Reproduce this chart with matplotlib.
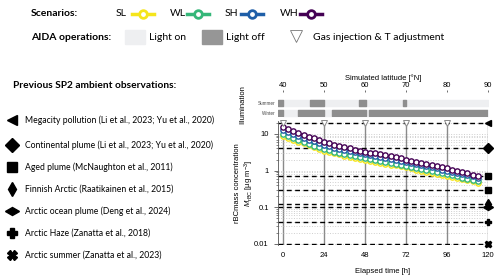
import matplotlib.pyplot as plt
from matplotlib.markers import MarkerStyle
from matplotlib.patches import Rectangle
from matplotlib.transforms import Affine2D


hours = [0, 3, 6, 9, 12, 15, 18, 21, 24, 27, 30, 33, 36, 39, 42, 45, 48, 51, 54, 57,
         60, 63, 66, 69, 72, 75, 78, 81, 84, 87, 90, 93, 96, 99, 102, 105, 108, 111, 114]

sl = [9.0, 7.9, 7.0, 6.2, 5.5, 4.85, 4.3, 3.85, 3.45, 3.2, 2.97, 2.75, 2.55, 2.37, 2.21,
      2.08, 1.96, 1.84, 1.74, 1.64, 1.55, 1.46, 1.38, 1.3, 1.22, 1.14, 1.07, 1.0, 0.94,
      0.88, 0.83, 0.78, 0.73, 0.68, 0.64, 0.59, 0.55, 0.51, 0.47]
wl = [10.0, 8.8, 7.8, 6.9, 6.1, 5.4, 4.8, 4.3, 3.85, 3.55, 3.3, 3.05, 2.82, 2.62, 2.45,
      2.3, 2.17, 2.04, 1.93, 1.81, 1.71, 1.61, 1.52, 1.43, 1.34, 1.25, 1.17, 1.09, 1.02,
      0.96, 0.9, 0.84, 0.79, 0.74, 0.69, 0.64, 0.6, 0.55, 0.51]
sh = [12.8, 11.3, 10.0, 8.9, 7.9, 7.0, 6.3, 5.6, 5.0, 4.6, 4.25, 3.9, 3.6, 3.35, 3.15,
      2.95, 2.8, 2.62, 2.48, 2.33, 2.2, 2.08, 1.96, 1.84, 1.72, 1.6, 1.49, 1.39, 1.3,
      1.22, 1.14, 1.07, 1.0, 0.94, 0.87, 0.81, 0.75, 0.69, 0.63]
wh = [15.5, 13.6, 12.0, 10.7, 9.5, 8.4, 7.5, 6.7, 6.0, 5.5, 5.1, 4.7, 4.3, 4.0, 3.75,
      3.5, 3.3, 3.1, 2.95, 2.75, 2.6, 2.45, 2.3, 2.15, 2.0, 1.85, 1.72, 1.6, 1.5, 1.4,
      1.31, 1.23, 1.15, 1.07, 0.99, 0.92, 0.85, 0.77, 0.70]

scenario_names = ["SL", "WL", "SH", "WH"]
scenario_colors = ["#f5e51b", "#35b779", "#1f5fa8", "#440154"]

obs_labels = [
    "Megacity pollution (Li et al., 2023; Yu et al., 2020)",
    "Continental plume (Li et al., 2023; Yu et al., 2020)",
    "Aged plume (McNaughton et al., 2011)",
    "Finnish Arctic (Raatikainen et al., 2015)",
    "Arctic ocean plume (Deng et al., 2024)",
    "Arctic Haze (Zanatta et al., 2018)",
    "Arctic summer (Zanatta et al., 2023)",
]
obs_levels = [[20], [4.2], [0.7, 0.3], [0.12], [0.1], [0.04], [0.01]]

hour_ticks = [0, 24, 48, 72, 96, 120]
lat_labels = [40, 50, 60, 70, 80, 90]
gas_hours = [0, 24, 48, 72, 96]

summer_dark = [(-3, 0), (16, 24), (44.5, 48.5), (70.5, 72)]
winter_dark = [(-3, 0), (8.5, 24), (28.5, 48.5), (50.5, 120)]

LIGHT = "#eeeff1"
DARK = "#8e8e8e"
VLINE = "#8a8a8a"

plt.rcParams["font.family"] = "Liberation Sans"
plt.rcParams["mathtext.fontset"] = "custom"
plt.rcParams["mathtext.rm"] = "Liberation Sans"
plt.rcParams["mathtext.it"] = "Liberation Sans:italic"

horiz_diamond = MarkerStyle("d", transform=Affine2D().rotate_deg(90))
obs_markers = ["<", "D", "s", "d", horiz_diamond, "P", "X"]


def main():
    fig = plt.figure(figsize=(5.0, 2.78), dpi=100)

    # main concentration panel
    ax = fig.add_axes([0.5558, 0.1176, 0.42, 0.446])
    ax.set_yscale("log")
    ax.set_xlim(-3, 120)
    ax.set_ylim(0.0092, 22)
    ax.yaxis.grid(True, which="both", color="#cfcfcf", linestyle=":", lw=0.7)
    for h in hour_ticks:
        ax.axvline(h, color=VLINE, lw=1.0, zorder=1)
    for levels in obs_levels:
        for v in levels:
            ax.axhline(v, color="black", ls=(0, (3.5, 2.5)), lw=1.0, zorder=2)

    for vals, c in zip([sl, wl, sh, wh], scenario_colors):
        ax.plot(hours, vals, "-o", color=c, lw=1.0, ms=3.8, mfc="white",
                mec=c, mew=1.0, zorder=3)

    ax.plot(gas_hours, [20] * len(gas_hours), "v", mfc="white", mec=VLINE,
            mew=0.7, ms=4, clip_on=False, zorder=5)

    for levels, m in zip(obs_levels, obs_markers):
        ax.plot([120] * len(levels), levels, ls="none", marker=m, color="black",
                ms=5, clip_on=False, zorder=6)

    ax.set_xticks(hour_ticks)
    ax.set_yticks([0.01, 0.1, 1, 10])
    ax.set_yticklabels(["0.01", "0.1", "1", "10"])
    ax.tick_params(axis="x", length=0, labelsize=5.5, pad=5)
    ax.tick_params(axis="y", which="major", length=3, width=0.6, labelsize=5.5,
                   color="#555555")
    ax.tick_params(axis="y", which="minor", length=1.8, width=0.5, color="#555555")
    for s in ["top", "right", "bottom"]:
        ax.spines[s].set_visible(False)
    ax.spines["left"].set_color("#555555")
    ax.spines["left"].set_linewidth(0.6)
    ax.set_xlabel("Elapsed time [h]", fontsize=5.5, labelpad=6)
    ax.set_ylabel("rBCmass concentration\n$M_{\\mathrm{rBC}}$ [µg m$^{-3}$]",
                  fontsize=5.5, labelpad=-1)

    # illumination strip
    axi = fig.add_axes([0.5558, 1 - 117 / 278, 0.42, 25 / 278])
    axi.set_xlim(-3, 120)
    axi.set_ylim(-0.4, 2.1)
    for row, dark in [(1, summer_dark), (0, winter_dark)]:
        axi.broken_barh([(0, 120)], (row - 0.26, 0.52), color=LIGHT)
        axi.broken_barh([(a, b - a) for a, b in dark], (row - 0.26, 0.52), color=DARK)
    axi.set_yticks([1, 0])
    axi.set_yticklabels(["Summer", "Winter"], fontsize=3.3, color="#444444")
    axi.tick_params(axis="y", length=0, pad=2)
    axi.xaxis.tick_top()
    axi.xaxis.set_label_position("top")
    axi.set_xticks(hour_ticks)
    axi.set_xticklabels([str(v) for v in lat_labels])
    axi.tick_params(axis="x", length=1.8, width=0.6, labelsize=5.5, pad=0.5,
                    color="#555555")
    for s in axi.spines.values():
        s.set_visible(False)
    axi.set_xlabel("Simulated latitude [°N]", fontsize=5.5, labelpad=1)
    axi.set_ylabel("Illumination", fontsize=5.5, labelpad=8)

    # legend overlay in pixel coords
    ov = fig.add_axes([0, 0, 1, 1])
    ov.set_xlim(0, 500)
    ov.set_ylim(278, 0)
    ov.axis("off")
    ov.set_zorder(-1)

    tfont = dict(family="Lato", fontsize=7.5, va="center")
    lfont = dict(family="Lato", fontsize=6.2, va="center")
    ov.text(31, 14, "Scenarios:", fontweight="bold", ha="left", **tfont)
    for name, c, tx, lx in zip(scenario_names, scenario_colors,
                               [116, 170, 225, 280], [132, 187, 241, 300]):
        ov.text(tx, 14, name, ha="left", **tfont)
        ov.plot([lx, lx + 22], [14, 14], color=c, lw=2.5)
        ov.plot([lx + 11], [14], "o", color=c, mfc="white", mew=2.0, ms=5.5)

    ov.text(31, 37, "AIDA operations:", fontweight="bold", ha="left", **tfont)
    ov.add_patch(Rectangle((125, 30), 20, 14, color=LIGHT))
    ov.text(149, 37, "Light on", ha="left", **tfont)
    ov.add_patch(Rectangle((202, 30), 20, 14, color="#969696"))
    ov.text(226, 37, "Light off", ha="left", **tfont)
    ov.plot([296], [36], "v", mfc="white", mec="#777777", mew=0.6, ms=9)
    ov.text(313, 37, "Gas injection & T adjustment", ha="left", **tfont)

    ov.text(13, 85, "Previous SP2 ambient observations:", fontweight="bold",
            ha="left", family="Lato", fontsize=7.3, va="center")
    for y, label, m in zip([120, 145, 167, 189, 211, 233, 255], obs_labels, obs_markers):
        ov.plot([12], [y], marker=m, color="black", ms=7)
        ov.text(25, y, label, ha="left", **lfont)

    fig.savefig("out.png", dpi=100)
    plt.close(fig)


if __name__ == "__main__":
    main()
